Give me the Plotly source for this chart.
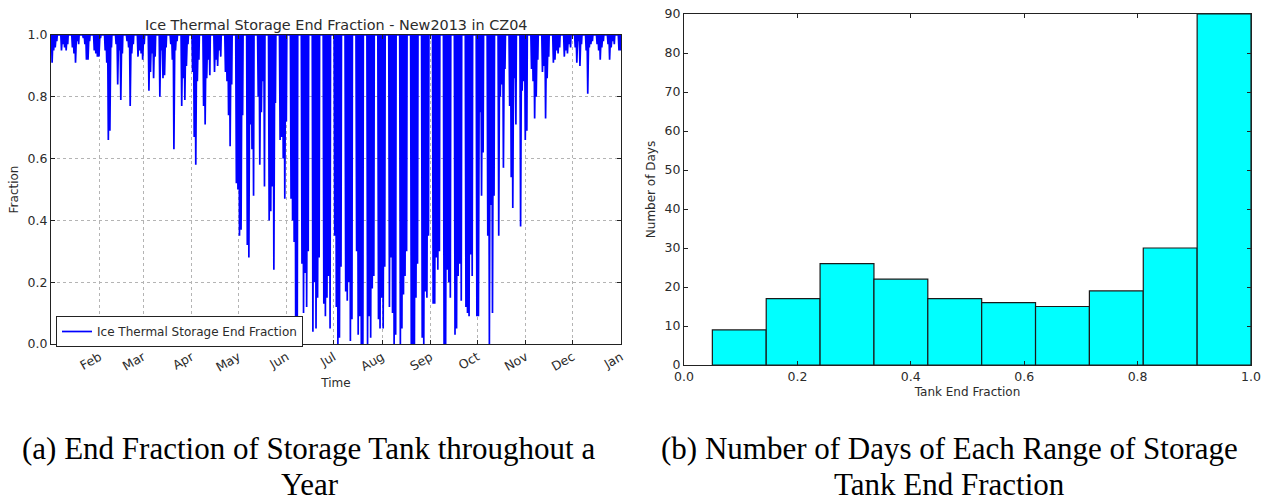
import datetime as dt
import plotly.graph_objects as go

# ---------------- data ----------------
# daily minimum tank fraction for each weekday (weekends stay fully charged)
jan_min = [0.91, 0.95, 0.96, 0.98, 0.95, 0.97, 0.96, 0.95, 0.97, 0.96, 0.94, 0.91,
           0.98, 0.97, 0.99, 0.97, 0.92, 0.92, 0.98, 0.95, 0.94, 0.93, 0.93]
feb_min = [0.99, 0.95, 0.91, 0.66, 0.69, 0.96, 0.97, 0.84, 0.95, 0.79, 0.94, 0.98,
           0.96, 0.77, 0.94, 0.97, 0.93, 0.95, 0.94, 0.92]
mar_min = [0.97, 0.82, 0.88, 0.94, 0.86, 0.93, 0.80, 0.95, 0.86, 0.87, 0.96, 0.97,
           0.92, 0.63, 0.95, 0.98, 0.77, 0.86, 0.79, 0.90, 0.97]
apr_min = [0.88, 0.67, 0.58, 0.85, 0.92, 0.77, 0.71, 0.86, 0.92, 0.87, 0.88, 0.92,
           0.90, 0.95, 0.93, 0.88, 0.85, 0.74, 0.64, 0.84, 0.52, 0.50]
may_min = [0.35, 0.37, 0.74, 0.32, 0.28, 0.71, 0.63, 0.48, 0.80, 0.58, 0.75, 0.85,
           0.51, 0.40, 0.43, 0.51, 0.24, 0.78, 0.66, 0.67, 0.60, 0.47, 0.72]
jun_min = [0.47, 0.40, 0.33, 0.01, 0.08, 0.26, 0.10, 0.23, 0.12, 0.30, 0.04, 0.20,
           0.05, 0.15, 0.28, 0.13, 0.09, 0.15, 0.22, 0.05]
jul_min = [0.35, 0.12, 0.00, 0.02, 0.25, 0.17, 0.14, 0.20, 0.01, 0.08, 0.30, 0.03,
           0.09, 0.00, 0.00, 0.00, 0.09, 0.02, 0.18, 0.22, 0.08, 0.05, 0.15]
aug_min = [0.05, 0.25, 0.12, 0.28, 0.10, 0.00, 0.03, 0.00, 0.05, 0.16, 0.22, 0.30,
           0.00, 0.00, 0.00, 0.15, 0.26, 0.02, 0.00, 0.17, 0.15, 0.35]
sep_min = [0.13, 0.13, 0.28, 0.24, 0.30, 0.00, 0.00, 0.24, 0.20, 0.15, 0.03, 0.05,
           0.22, 0.26, 0.14, 0.12, 0.10, 0.09, 0.29, 0.22, 0.09]
oct_min = [0.09, 0.75, 0.48, 0.62, 0.35, 0.00, 0.45, 0.10, 0.48, 0.35, 0.80, 0.84,
           0.57, 0.89, 0.77, 0.54, 0.44, 0.86, 0.71, 0.38, 0.82, 0.85, 0.66]
nov_min = [0.69, 0.89, 0.85, 0.73, 0.80, 0.92, 0.88, 0.90, 0.73, 0.86, 0.93, 0.91,
           0.92, 0.95, 0.94, 0.96, 0.93, 0.95, 0.94, 0.97, 0.96]
dec_min = [0.96, 0.91, 0.98, 0.90, 0.97, 0.95, 0.81, 0.96, 0.97, 0.98, 0.97, 0.95,
           0.92, 0.96, 0.98, 0.97, 0.92, 0.96, 0.98, 0.97, 0.95, 0.95]
months_min = [jan_min, feb_min, mar_min, apr_min, may_min, jun_min,
              jul_min, aug_min, sep_min, oct_min, nov_min, dec_min]

month_ticks = ["2013-02-01", "2013-03-01", "2013-04-01", "2013-05-01", "2013-06-01",
               "2013-07-01", "2013-08-01", "2013-09-01", "2013-10-01", "2013-11-01",
               "2013-12-01", "2014-01-01"]
month_labels = ["Feb", "Mar", "Apr", "May", "Jun", "Jul", "Aug", "Sep", "Oct", "Nov",
                "Dec", "Jan"]

hist_edges = [0.05, 0.145, 0.24, 0.335, 0.43, 0.525, 0.62, 0.715, 0.81, 0.905, 1.0]
hist_counts = [9, 17, 26, 22, 17, 16, 15, 19, 30, 90]

# ---------------- build hourly-like trace ----------------
xs, ys = [], []
day = dt.date(2013, 1, 1)
idx = [0] * 12
while day < dt.date(2014, 1, 1):
    base = dt.datetime(day.year, day.month, day.day)
    if day.weekday() < 5:
        m = day.month - 1
        v = months_min[m][idx[m]]
        idx[m] += 1
        xs += [base, base + dt.timedelta(hours=7), base + dt.timedelta(hours=17),
               base + dt.timedelta(hours=23, minutes=30)]
        ys += [1.0, 1.0, v, 1.0]
    else:
        xs.append(base)
        ys.append(1.0)
    day += dt.timedelta(days=1)

W, H = 1270, 503
def px(x):
    return x / W
def py(y):
    return 1 - y / H

FONT = "DejaVu Sans"
TXT = "#2b2b2b"

fig = go.Figure()
fig.add_trace(go.Scatter(x=xs, y=ys, mode="lines", name="Ice Thermal Storage End Fraction",
                         line=dict(color="#0000ff", width=1.7), xaxis="x", yaxis="y"))

centers = [(hist_edges[i] + hist_edges[i + 1]) / 2 for i in range(len(hist_counts))]
widths = [hist_edges[i + 1] - hist_edges[i] for i in range(len(hist_counts))]
fig.add_trace(go.Bar(x=centers, y=hist_counts, width=widths, showlegend=False,
                     marker=dict(color="#00ffff", line=dict(color="#1a1a1a", width=1.2)),
                     xaxis="x2", yaxis="y2"))

axis_common = dict(showline=True, linecolor="#222", linewidth=1, mirror="ticks",
                   ticks="inside", ticklen=4, tickcolor="#222", zeroline=False,
                   automargin=False,
                   tickfont=dict(family=FONT, size=12.5, color=TXT))

fig.update_layout(
    width=W, height=H, margin=dict(l=0, r=0, t=0, b=0, autoexpand=False),
    paper_bgcolor="white", plot_bgcolor="white",
    font=dict(family=FONT, size=12, color=TXT),
    showlegend=True,
    legend=dict(x=px(56), y=py(316), xanchor="left", yanchor="top",
                bordercolor="#222", borderwidth=1, bgcolor="white",
                font=dict(family=FONT, size=12, color=TXT), itemwidth=30),
    xaxis=dict(domain=[px(51), px(621)], type="date",
               range=["2013-01-01", "2014-01-01"],
               tickvals=month_ticks, ticktext=month_labels, tickangle=-30,
               showgrid=True, gridcolor="#b4b4b4", griddash="dot", gridwidth=1,
               title=dict(text="Time", font=dict(family=FONT, size=12, color=TXT), standoff=4),
               **axis_common),
    yaxis=dict(domain=[py(344), py(35)], range=[0, 1], dtick=0.2, tickformat=".1f",
               showgrid=True, gridcolor="#b4b4b4", griddash="dot", gridwidth=1,
               title=dict(text="Fraction", font=dict(family=FONT, size=12, color=TXT), standoff=6),
               **axis_common),
    xaxis2=dict(domain=[px(684), px(1251)], range=[0, 1], dtick=0.2, tickformat=".1f",
                showgrid=False, anchor="y2",
                title=dict(text="Tank End Fraction", font=dict(family=FONT, size=12, color=TXT), standoff=4),
                **axis_common),
    yaxis2=dict(domain=[py(365), py(14)], range=[0, 90], dtick=10, showgrid=False,
                anchor="x2",
                title=dict(text="Number of Days", font=dict(family=FONT, size=12, color=TXT), standoff=6),
                **axis_common),
)

fig.add_annotation(text="Ice Thermal Storage End Fraction - New2013 in CZ04",
                   x=px(336), y=py(25), xref="paper", yref="paper", showarrow=False,
                   xanchor="center", yanchor="middle",
                   font=dict(family=FONT, size=14.4, color=TXT))

CAP = dict(family="Liberation Serif", size=31, color="#000")
captions = [("(a) End Fraction of Storage Tank throughout a", 308, 448),
            ("Year", 310, 484),
            ("(b) Number of Days of Each Range of Storage", 949, 448),
            ("Tank End Fraction", 949, 484)]
for t, cx, cy in captions:
    fig.add_annotation(text=t, x=px(cx), y=py(cy), xref="paper", yref="paper",
                       showarrow=False, font=CAP, xanchor="center", yanchor="middle")

fig.write_html("out.html")
